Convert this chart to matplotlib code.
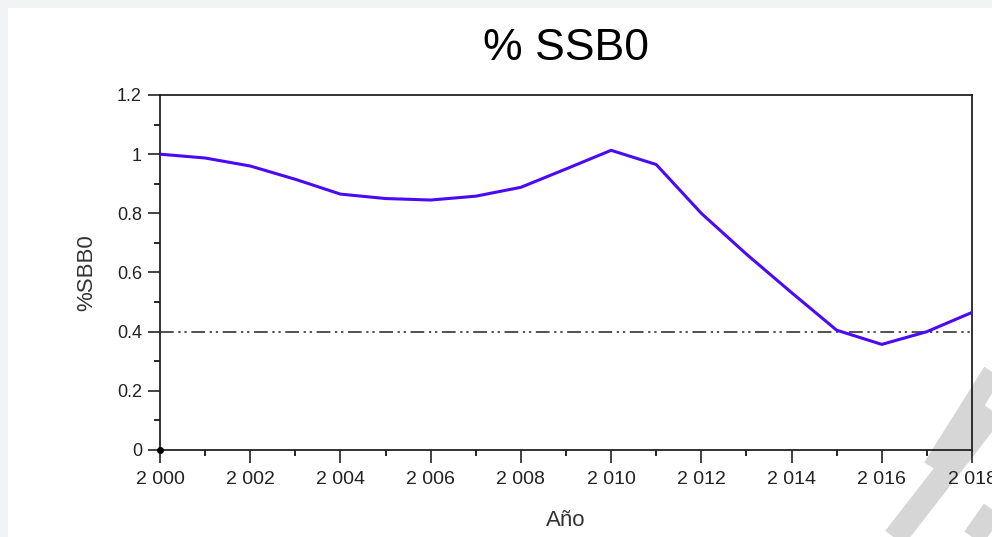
import numpy as np
import matplotlib.pyplot as plt
from matplotlib.patches import Rectangle
from matplotlib.lines import Line2D
from matplotlib.ticker import MultipleLocator, FuncFormatter

plt.rcParams['font.family'] = ['Liberation Sans', 'DejaVu Sans']

# Datos
anios = list(range(2000, 2019))
ssb0 = [1.000, 0.987, 0.960, 0.915, 0.865, 0.850, 0.845, 0.858, 0.888,
        0.950, 1.013, 0.965, 0.800, 0.662, 0.532, 0.405, 0.357, 0.400, 0.465]
referencia = 0.4

W, H = 992, 537
fig = plt.figure(figsize=(W / 100, H / 100), dpi=100, facecolor='#f1f4f5')
fig.patches.append(Rectangle((8 / W, 0), 1, 1 - 8 / H, transform=fig.transFigure,
                             facecolor='white', edgecolor='none', zorder=-10))

ax = fig.add_axes([160 / W, 1 - 450 / H, 812 / W, 355 / H])
ax.patch.set_alpha(0)
ax.plot(anios, ssb0, color='#4a0af5', lw=2.2, zorder=3)
ax.axhline(referencia, color='#222222', lw=1.1, dashes=(9, 3, 1.5, 2.5, 1.5, 3), zorder=2)
ax.plot([anios[0]], [0], 'o', color='black', ms=4, clip_on=False, zorder=4)

ax.set_xlim(2000, 2018)
ax.set_ylim(0, 1.2)
ax.xaxis.set_major_locator(MultipleLocator(2))
ax.xaxis.set_minor_locator(MultipleLocator(1))
ax.yaxis.set_major_locator(MultipleLocator(0.2))
ax.yaxis.set_minor_locator(MultipleLocator(0.1))
ax.xaxis.set_major_formatter(FuncFormatter(lambda v, p: f"{int(round(v)):,}".replace(",", " ")))
ax.yaxis.set_major_formatter(FuncFormatter(lambda v, p: f"{v:g}"))

ax.tick_params(which='major', direction='out', length=9, width=1.2, labelsize=13,
               colors='#222222', pad=4)
ax.tick_params(which='minor', direction='out', length=4, width=1.2)
ax.tick_params(axis='x', which='major', pad=6, labelsize=14)
for s in ax.spines.values():
    s.set_linewidth(1.3)
    s.set_color('#222222')

ax.set_title('% SSB0', fontsize=32, pad=25)
ax.set_ylabel('%SBB0', fontsize=16, labelpad=14, color='#333333')
ax.set_xlabel('Año', fontsize=16, labelpad=16, color='#333333')

# marca de agua (trazos grises en la esquina, detras de todo)
trazos = [((933, 468), (1002, 358), 15),
          ((893, 540), (1002, 400), 17),
          ((972, 540), (1002, 497), 16)]
for (x0, y0), (x1, y1), w in trazos:
    fig.lines.append(Line2D([x0 / W, x1 / W], [1 - y0 / H, 1 - y1 / H],
                            transform=fig.transFigure, color='#d6d6d6', lw=w,
                            solid_capstyle='butt', zorder=-5))

fig.savefig('out.png', dpi=100, facecolor=fig.get_facecolor())
